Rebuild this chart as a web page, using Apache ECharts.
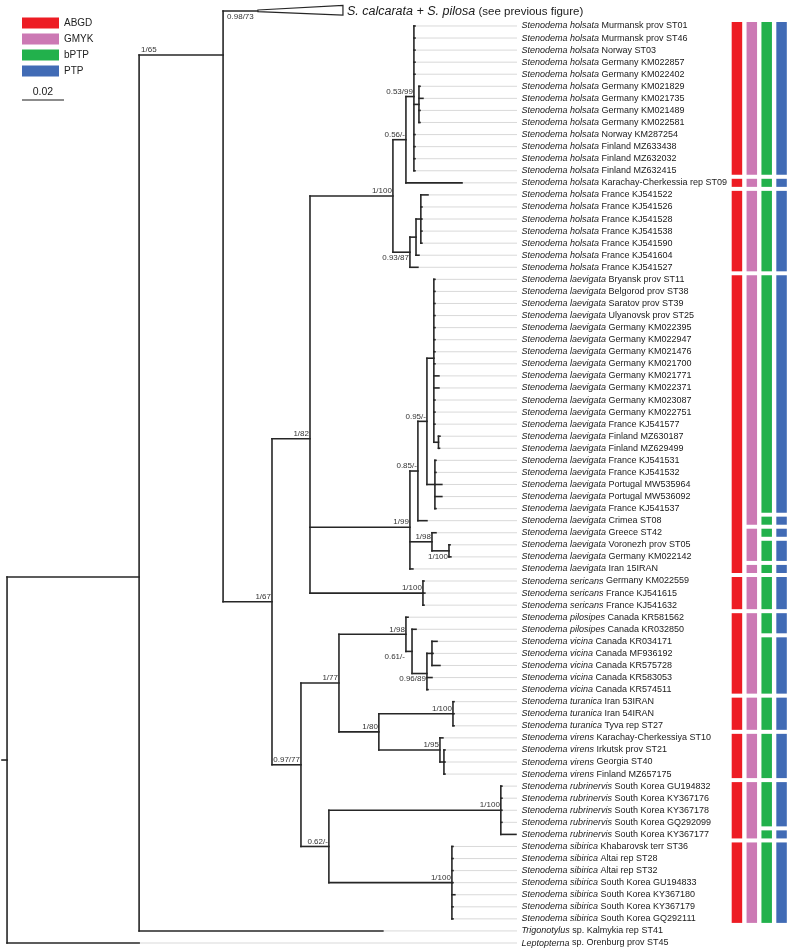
<!DOCTYPE html>
<html><head><meta charset="utf-8">
<script src="https://cdn.jsdelivr.net/npm/echarts@6/dist/echarts.min.js"></script>
<style>html,body{margin:0;padding:0;background:#fff}#c{width:789px;height:950px}</style>
</head><body><div id="c"></div><script>
// ---------- DATA ----------
const leafTaxon = [
'S. calcarata + S. pilosa',
'Stenodema holsata','Stenodema holsata','Stenodema holsata','Stenodema holsata','Stenodema holsata',
'Stenodema holsata','Stenodema holsata','Stenodema holsata','Stenodema holsata','Stenodema holsata',
'Stenodema holsata','Stenodema holsata','Stenodema holsata','Stenodema holsata','Stenodema holsata',
'Stenodema holsata','Stenodema holsata','Stenodema holsata','Stenodema holsata','Stenodema holsata',
'Stenodema holsata',
'Stenodema laevigata','Stenodema laevigata','Stenodema laevigata','Stenodema laevigata','Stenodema laevigata',
'Stenodema laevigata','Stenodema laevigata','Stenodema laevigata','Stenodema laevigata','Stenodema laevigata',
'Stenodema laevigata','Stenodema laevigata','Stenodema laevigata','Stenodema laevigata','Stenodema laevigata',
'Stenodema laevigata','Stenodema laevigata','Stenodema laevigata','Stenodema laevigata','Stenodema laevigata',
'Stenodema laevigata','Stenodema laevigata','Stenodema laevigata','Stenodema laevigata','Stenodema laevigata',
'Stenodema sericans','Stenodema sericans','Stenodema sericans',
'Stenodema pilosipes','Stenodema pilosipes',
'Stenodema vicina','Stenodema vicina','Stenodema vicina','Stenodema vicina','Stenodema vicina',
'Stenodema turanica','Stenodema turanica','Stenodema turanica',
'Stenodema virens','Stenodema virens','Stenodema virens','Stenodema virens',
'Stenodema rubrinervis','Stenodema rubrinervis','Stenodema rubrinervis','Stenodema rubrinervis','Stenodema rubrinervis',
'Stenodema sibirica','Stenodema sibirica','Stenodema sibirica','Stenodema sibirica','Stenodema sibirica','Stenodema sibirica','Stenodema sibirica',
'Trigonotylus','Leptopterna'];
const leafRest = [
'(see previous figure)',
'Murmansk prov ST01','Murmansk prov ST46','Norway ST03','Germany KM022857','Germany KM022402',
'Germany KM021829','Germany KM021735','Germany KM021489','Germany KM022581','Norway KM287254',
'Finland MZ633438','Finland MZ632032','Finland MZ632415','Karachay-Cherkessia rep ST09','France KJ541522',
'France KJ541526','France KJ541528','France KJ541538','France KJ541590','France KJ541604','France KJ541527',
'Bryansk prov ST11','Belgorod prov ST38','Saratov prov ST39','Ulyanovsk prov ST25','Germany KM022395',
'Germany KM022947','Germany KM021476','Germany KM021700','Germany KM021771','Germany KM022371',
'Germany KM023087','Germany KM022751','France KJ541577','Finland MZ630187','Finland MZ629499',
'France KJ541531','France KJ541532','Portugal MW535964','Portugal MW536092','France KJ541537',
'Crimea ST08','Greece ST42','Voronezh prov ST05','Germany KM022142','Iran 15IRAN',
'Germany KM022559','France KJ541615','France KJ541632',
'Canada KR581562','Canada KR032850',
'Canada KR034171','Canada MF936192','Canada KR575728','Canada KR583053','Canada KR574511',
'Iran 53IRAN','Iran 54IRAN','Tyva rep ST27',
'Karachay-Cherkessiya ST10','Irkutsk prov ST21','Georgia ST40','Finland MZ657175',
'South Korea GU194832','South Korea KY367176','South Korea KY367178','South Korea GQ292099','South Korea KY367177',
'Khabarovsk terr ST36','Altai rep ST28','Altai rep ST32','South Korea GU194833','South Korea KY367180','South Korea KY367179','South Korea GQ292111',
'sp. Kalmykia rep ST41','sp. Orenburg prov ST45'];
const leafParent = ['B','H','H','H','H','H','I','I','I','I','H','H','H','H','G','L','L','L','L','L','K','J',
'R','R','R','R','R','R','R','R','R','R','R','R','R','T','T','S','S','S','S','S','O','P','U','U','M',
'N','N','N','X','Z','BB','BB','BB','AA','AA','CC','CC','CC','DD','EE','EE','EE',
'FF','FF','FF','FF','FF','GG','GG','GG','GG','GG','GG','GG','A','root'];
const leafDepth = [0.1195,
0.1943,0.1943,0.1943,0.1943,0.1943,0.1967,0.1981,0.1967,0.1967,0.1943,0.1943,0.1943,0.1943,
0.2167,0.2005,0.1976,0.1976,0.1976,0.1976,0.1962,0.1957,
0.2038,0.2038,0.2038,0.2038,0.2038,0.2038,0.2038,0.2038,0.2057,0.2057,0.2038,0.2038,0.2038,
0.2062,0.2060,0.2043,0.2043,0.2071,0.2071,0.2043,0.2000,0.2043,0.2110,0.2114,0.1933,
0.1986,0.1990,0.1986,0.1910,0.1948,0.2048,0.2029,0.2062,0.2024,0.2005,
0.2129,0.2129,0.2129,0.2076,0.2086,0.2086,0.2086,
0.2357,0.2357,0.2357,0.2357,0.2424,0.2124,0.2124,0.2124,0.2124,0.2133,0.2124,0.2124,
0.1790,0.0629];
const leafRowOverride = {0: -0.24};
const collapsedCladeDepth = 0.16;
const collapsedCladeSupport = '0.98/73';

const nodeIds    = ['root','A','B','D','E','C','G','H','I','J','K','L','M','O','Q','R','T','S','P','U','N','F','V','X','Z','AA','BB','Y','CC','DD','EE','W','FF','GG'];
const nodeParent = [null,'root','A','B','D','E','C','G','H','C','J','K','E','M','O','Q','R','Q','M','P','E','D','F','V','X','Z','AA','V','Y','Y','DD','F','W','W'];
const nodeDepth  = [0,0.0629,0.1029,0.1262,0.1443,0.1838,0.1900,0.1938,0.1962,0.1919,0.1948,0.1971,0.1919,0.1957,0.2000,0.2033,0.2055,0.2038,0.2024,0.2105,0.1981,0.1400,0.1581,0.1900,0.1929,0.2000,0.2024,0.1771,0.2124,0.2062,0.2081,0.1533,0.2352,0.2119];
const nodeSupport= ['','','1/65','1/67','1/82','1/100','0.56/-','0.53/99','','0.93/87','','','1/99','0.85/-','0.95/-','','','','1/98','1/100','1/100','0.97/77','1/77','1/98','0.61/-','0.96/89','','1/80','1/100','1/95','','0.62/-','1/100','1/100'];
const nodeRowOverride = {B: 3.41, A: 46.67};

const methods = ['ABGD','GMYK','bPTP','PTP'];
const groupsABGD = [[1,13],[14,14],[15,21],[22,46],[47,49],[50,56],[57,59],[60,63],[64,68],[69,75]];
const groupsGMYK = [[1,13],[14,14],[15,21],[22,42],[43,45],[46,46],[47,49],[50,56],[57,59],[60,63],[64,68],[69,75]];
const groupsbPTP = [[1,13],[14,14],[15,21],[22,41],[42,42],[43,43],[44,45],[46,46],[47,49],[50,51],[52,56],[57,59],[60,63],[64,67],[68,68],[69,75]];
const groupsPTP  = [[1,13],[14,14],[15,21],[22,41],[42,42],[43,43],[44,45],[46,46],[47,49],[50,51],[52,56],[57,59],[60,63],[64,67],[68,68],[69,75]];
const scaleBarValue = 0.02;

// ---------- STYLE ----------
const methodColors = ['#ED1C24','#CC79B4','#22B14C','#416BB5'];
const FONT = '"Liberation Sans", Arial, Helvetica, sans-serif';
const xMin = -0.0024, xMax = 0.2429;
const labelPlacement = {B:'parentLeftAbove', J:'below', Z:'parentBelow', AA:'below', U:'below'};

// ---------- BUILD TREE GEOMETRY (data units) ----------
const leafRow = leafTaxon.map((_,i)=> (i in leafRowOverride) ? leafRowOverride[i] : i);
const nIdx = {}; nodeIds.forEach((id,i)=>nIdx[id]=i);
const kids = nodeIds.map(()=>[]);
leafParent.forEach((p,i)=>kids[nIdx[p]].push({leaf:true,i}));
nodeParent.forEach((p,i)=>{ if(p) kids[nIdx[p]].push({leaf:false,i}); });
const nodeY = [];
function yOf(i){
  if (nodeY[i] !== undefined) return nodeY[i];
  const ys = kids[i].map(c=>c.leaf ? leafRow[c.i] : yOf(c.i));
  const id = nodeIds[i];
  nodeY[i] = (id in nodeRowOverride) ? nodeRowOverride[id] : ys.reduce((a,b)=>a+b,0)/ys.length;
  return nodeY[i];
}
nodeIds.forEach((_,i)=>yOf(i));

const branchSegs = [];
const leaderSegs = [];
nodeIds.forEach((id,i)=>{
  const ys = kids[i].map(c=>c.leaf ? leafRow[c.i] : nodeY[c.i]).concat([nodeY[i]]);
  branchSegs.push([nodeDepth[i], Math.min(...ys), nodeDepth[i], Math.max(...ys)]);
  if (nodeParent[i]) branchSegs.push([nodeDepth[nIdx[nodeParent[i]]], nodeY[i], nodeDepth[i], nodeY[i]]);
  else branchSegs.push([xMin, nodeY[i], nodeDepth[i], nodeY[i]]);
});
leafParent.forEach((p,i)=>{
  branchSegs.push([nodeDepth[nIdx[p]], leafRow[i], leafDepth[i], leafRow[i]]);
  if (i > 0 && leafDepth[i] < xMax) leaderSegs.push([leafDepth[i], leafRow[i], xMax, leafRow[i]]);
});

const supportData = [];
nodeIds.forEach((id,i)=>{
  if (nodeSupport[i]) supportData.push([nodeDepth[i], nodeY[i], nodeDepth[nIdx[nodeParent[i]]], i]);
});

// ---------- CHART ----------
const chart = echarts.init(document.getElementById('c'), null, {renderer:'canvas'});
const G0 = {xAxisIndex:0, yAxisIndex:0};

function lineItem(a,b,stroke,w,cap){
  return {type:'line', shape:{x1:a[0],y1:a[1],x2:b[0],y2:b[1]}, style:{stroke, lineWidth:w, lineCap:cap||'butt'}};
}

const series = [
  Object.assign({type:'custom', silent:true, data: leaderSegs,
    renderItem:(p,api)=>lineItem(api.coord([api.value(0),api.value(1)]), api.coord([api.value(2),api.value(3)]), '#cfcfcf', 0.8)}, G0),
  Object.assign({type:'custom', silent:true, data: branchSegs,
    renderItem:(p,api)=>lineItem(api.coord([api.value(0),api.value(1)]), api.coord([api.value(2),api.value(3)]), '#262626', 1.6, 'square')}, G0),
  // collapsed clade triangle + label
  Object.assign({type:'custom', silent:true, data: [[leafDepth[0], leafRow[0], collapsedCladeDepth]],
    renderItem:(p,api)=>{
      const apex = api.coord([api.value(0), api.value(1)]);
      const base = api.coord([api.value(2), api.value(1)]);
      const px = api.coord([nodeDepth[nIdx[leafParent[0]]], api.value(1)]);
      return {type:'group', children:[
        {type:'polygon', shape:{points:[[apex[0],apex[1]-1],[base[0],base[1]-5.5],[base[0],base[1]+4],[apex[0],apex[1]+0.6]]},
          style:{fill:'#fff', stroke:'#262626', lineWidth:1.2}},
        {type:'text', x: base[0]+4, y: base[1]+0.5, style:{
          text:'{i|'+leafTaxon[0]+'} {r|'+leafRest[0]+'}',
          rich:{i:{fontStyle:'italic', fontSize:12.5, fontFamily:FONT, fill:'#1a1a1a'}, r:{fontSize:11.5, fontFamily:FONT, fill:'#1a1a1a'}},
          verticalAlign:'middle', align:'left'}},
        {type:'text', x: px[0]+4, y: px[1]+1.5, style:{text: collapsedCladeSupport, fontSize:8, fontFamily:FONT, fill:'#333', align:'left', verticalAlign:'top'}}
      ]};
    }}, G0),
  // leaf labels
  Object.assign({type:'custom', silent:true, data: leafTaxon.map((t,i)=>[xMax, leafRow[i]]).slice(1),
    renderItem:(p,api)=>{
      const i = p.dataIndex + 1;
      const pt = api.coord([api.value(0), api.value(1)]);
      return {type:'text', x: pt[0]+4.5, y: pt[1], style:{
        text:'{i|'+leafTaxon[i]+'} {r|'+leafRest[i]+'}',
        rich:{i:{fontStyle:'italic', fontSize:9, fontFamily:FONT, fill:'#1a1a1a'}, r:{fontSize:9, fontFamily:FONT, fill:'#1a1a1a'}},
        fontSize:9, fontFamily:FONT, verticalAlign:'middle', align:'left'}};
    }}, G0),
  // support values
  Object.assign({type:'custom', silent:true, data: supportData,
    renderItem:(p,api)=>{
      const i = api.value(3);
      const id = nodeIds[i];
      const pt = api.coord([api.value(0), api.value(1)]);
      const pp = api.coord([api.value(2), api.value(1)]);
      const mode = labelPlacement[id] || 'above';
      let x = pt[0]-1, y = pt[1]-1, align='right', va='bottom';
      if (mode==='below'){ y = pt[1]+1.5; va='top'; }
      if (mode==='parentBelow'){ x = pp[0]-1; y = pt[1]+1.5; va='top'; }
      if (mode==='parentLeftAbove'){ x = pp[0]+2; align='left'; }
      return {type:'text', x, y, style:{text: nodeSupport[i], fontSize:8, fontFamily:FONT, fill:'#333', align, verticalAlign: va}};
    }}, G0),
  // scale bar
  Object.assign({type:'custom', silent:true, data: [[scaleBarValue]],
    renderItem:(p,api)=>{
      const w = api.size([api.value(0), 0])[0];
      return {type:'group', children:[
        lineItem([22,100],[22+w,100],'#1a1a1a',1.2),
        {type:'text', x: 22+w/2, y: 98, style:{text: String(scaleBarValue), fontSize:10.5, fontFamily:FONT, fill:'#1a1a1a', align:'center', verticalAlign:'bottom'}}
      ]};
    }}, G0)
];

const groupsByMethod = [groupsABGD, groupsGMYK, groupsbPTP, groupsPTP];
methods.forEach((m,mi)=>{
  series.push({type:'custom', name:m, xAxisIndex:1, yAxisIndex:1, silent:true,
    itemStyle:{color: methodColors[mi]},
    data: groupsByMethod[mi].map(g=>[mi, g[0], g[1]]),
    renderItem:(p,api)=>{
      const top = api.coord([api.value(0), api.value(1)-0.5]);
      const bot = api.coord([api.value(0), api.value(2)+0.5]);
      const w = 10.5;
      return {type:'rect', shape:{x: top[0]-w/2, y: top[1]+2, width:w, height: bot[1]-top[1]-4},
        style:{fill: methodColors[mi]}};
    }});
});

// row 0 at y=13.9 px, row 77 at y=943 px; axis starts half a row above row 0
chart.setOption({
  animation:false,
  backgroundColor:'#fff',
  grid:[
    {left:2, width:515, top:7.87, height:935.13},
    {left:729.5, width:60, top:7.87, height:935.13}
  ],
  xAxis:[
    {type:'value', gridIndex:0, min:xMin, max:xMax, show:false},
    {type:'category', gridIndex:1, data:methods, show:false, boundaryGap:true}
  ],
  yAxis:[
    {type:'value', gridIndex:0, min:-0.5, max:77, inverse:true, show:false},
    {type:'value', gridIndex:1, min:-0.5, max:77, inverse:true, show:false}
  ],
  legend:{orient:'vertical', left:22, top:17, icon:'rect', itemWidth:37, itemHeight:11, itemGap:4,
    selectedMode:false, padding:0, data:methods,
    textStyle:{fontSize:10, fontFamily:FONT, color:'#222', lineHeight:12}},
  series
});
</script></body></html>
